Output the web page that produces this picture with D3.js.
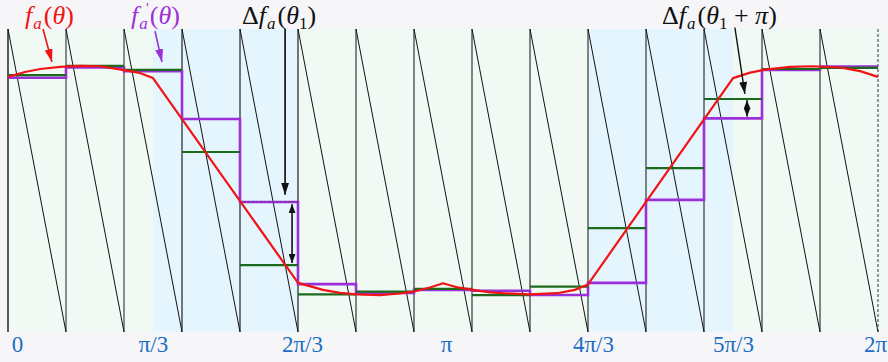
<!DOCTYPE html>
<html>
<head>
<meta charset="utf-8">
<script src="https://cdn.jsdelivr.net/npm/d3@7"></script>
<style>
  html, body { margin: 0; padding: 0; background: #f6f6f8; }
  svg { display: block; }
  text { font-family: "Liberation Serif", "Times New Roman", serif; }
</style>
</head>
<body>
<svg id="chart" width="888" height="362"></svg>
<script>
const PI = Math.PI;

// f_a(θ): sample angles (in units of π) and values
const curveTheta = [0, 0.039, 0.074, 0.120, 0.166, 0.212, 0.267, 0.303, 0.3333,
  0.6667, 0.724, 0.763, 0.802, 0.855, 0.901, 0.931, 0.970, 1.0, 1.034, 1.069,
  1.108, 1.138, 1.2, 1.262, 1.303, 1.322, 1.3333,
  1.6667, 1.706, 1.740, 1.798, 1.851, 1.913, 1.959, 2.0];
const curveValue = [84.2, 85.8, 86.8, 87.5, 87.8, 87.7, 86.4, 85.5, 83.8,
  16.2, 13.9, 12.9, 12.4, 12.2, 12.7, 13.3, 14.7, 16.1, 14.7, 13.9,
  13.1, 12.8, 12.4, 12.8, 13.9, 15.0, 15.7,
  83.8, 85.6, 86.6, 87.5, 87.7, 87.3, 86.1, 84.2];

// 15 equal segments of [0, 2π]
const segmentCount = 15;
// f_a'(θ): value held over each segment
const heldValue = [83.9, 87.3, 86.1, 70.3, 42.9, 15.8, 12.9, 13.9, 13.6, 12.2,
  16.2, 43.6, 70.5, 86.5, 87.6];
// segment mean level
const meanValue = [84.8, 87.8, 86.5, 59.4, 22.1, 12.4, 13.3, 14.2, 12.2, 15.0,
  34.3, 54.1, 76.9, 86.8, 87.2];

const tickValues = [0, PI / 3, 2 * PI / 3, PI, 4 * PI / 3, 5 * PI / 3, 2 * PI];
const tickLabels = ["0", "π/3", "2π/3", "π", "4π/3", "5π/3", "2π"];
const bandRanges = [[PI / 3, 2 * PI / 3], [4 * PI / 3, 5 * PI / 3]];

const svg = d3.select("#chart");
const W = 888, H = 362;
const plotTop = 29, plotBottom = 332, plotLeft = 8, plotRight = 878;

const x = d3.scaleLinear().domain([0, 2 * PI]).range([plotLeft, plotRight]);
const y = d3.scaleLinear().domain([0, 100]).range([plotBottom, plotTop]);

// page background
svg.append("rect").attr("width", W).attr("height", H).attr("fill", "#f6f6f8");

// plot background and shaded bands
svg.append("rect").attr("x", plotLeft).attr("y", plotTop)
  .attr("width", W - plotLeft - 4).attr("height", plotBottom - plotTop).attr("fill", "#f1f9f4");
svg.selectAll("rect.band").data(bandRanges).join("rect")
  .attr("class", "band")
  .attr("x", d => x(d[0])).attr("y", plotTop)
  .attr("width", d => x(d[1]) - x(d[0])).attr("height", plotBottom - plotTop)
  .attr("fill", "#e5f5fd");

// sawtooth reference: flyback verticals and falling ramps
const bounds = d3.range(segmentCount + 1).map(k => 2 * PI * k / segmentCount);
const vStyle = k => {
  if (k === 0) return ["#333", 1.6];
  if (k <= 2) return ["#8a8a8a", 2];
  if (k <= 5) return ["#555", 1.6];
  return ["#111", 1];
};
svg.selectAll("line.flyback").data(bounds.slice(0, segmentCount)).join("line")
  .attr("class", "flyback")
  .attr("x1", d => x(d)).attr("x2", d => x(d))
  .attr("y1", plotTop).attr("y2", plotBottom)
  .attr("stroke", (d, i) => vStyle(i)[0])
  .attr("stroke-width", (d, i) => vStyle(i)[1]);
svg.append("line")
  .attr("x1", x(2 * PI)).attr("x2", x(2 * PI))
  .attr("y1", plotTop).attr("y2", plotBottom)
  .attr("stroke", "#333").attr("stroke-width", 1)
  .attr("stroke-dasharray", "3,2");
svg.selectAll("line.ramp").data(bounds.slice(0, segmentCount)).join("line")
  .attr("class", "ramp")
  .attr("x1", d => x(d)).attr("y1", plotTop)
  .attr("x2", (d, i) => x(bounds[i + 1])).attr("y2", plotBottom)
  .attr("stroke", "#111").attr("stroke-width", 1);

// f_a'(θ) staircase
const stairPts = [];
heldValue.forEach((v, i) => {
  stairPts.push([bounds[i], v]);
  stairPts.push([bounds[i + 1], v]);
});
svg.append("path")
  .attr("d", d3.line().x(d => x(d[0])).y(d => y(d[1]))(stairPts))
  .attr("fill", "none").attr("stroke", "#9b30d9").attr("stroke-width", 2.6);

// dashed marker on the sampled level of the fifth segment
svg.append("line")
  .attr("x1", x(bounds[4])).attr("x2", x(bounds[5]))
  .attr("y1", y(heldValue[4])).attr("y2", y(heldValue[4]))
  .attr("stroke", "#333").attr("stroke-width", 1).attr("stroke-dasharray", "2,2")
  .attr("opacity", 0.5);

// segment mean levels
svg.selectAll("line.mean").data(meanValue).join("line")
  .attr("class", "mean")
  .attr("x1", (d, i) => x(bounds[i])).attr("x2", (d, i) => x(bounds[i + 1]))
  .attr("y1", d => y(d)).attr("y2", d => y(d))
  .attr("stroke", "#1c6b1c").attr("stroke-width", 2.2);

// f_a(θ)
svg.append("path")
  .attr("d", d3.line().x(d => x(d * PI)).y((d, i) => y(curveValue[i]))(curveTheta))
  .attr("fill", "none").attr("stroke", "#f01414").attr("stroke-width", 2.2)
  .attr("stroke-linejoin", "round");

// arrowheads
const defs = svg.append("defs");
function marker(id, color, w, l) {
  defs.append("marker").attr("id", id)
    .attr("markerUnits", "userSpaceOnUse")
    .attr("viewBox", `0 ${-w / 2} ${l} ${w}`)
    .attr("refX", l).attr("refY", 0)
    .attr("markerWidth", l).attr("markerHeight", w)
    .attr("orient", "auto-start-reverse")
    .append("path").attr("d", `M0,${-w / 2}L${l},0L0,${w / 2}Z`).attr("fill", color);
}
marker("headRed", "#f01414", 8, 13);
marker("headPurple", "#9b30d9", 8, 13);
marker("headBlack", "#111", 8, 12);
marker("headSmall", "#111", 7, 9);

function arrow(t1, v1, t2, v2, color, head, both, width) {
  const l = svg.append("line")
    .attr("x1", x(t1 * PI)).attr("y1", y(v1))
    .attr("x2", x(t2 * PI)).attr("y2", y(v2))
    .attr("stroke", color).attr("stroke-width", width || 1.6)
    .attr("marker-end", `url(#${head})`);
  if (both) l.attr("marker-start", `url(#${head})`);
}
arrow(0.0805, 100, 0.101, 89.1, "#f01414", "headRed");
arrow(0.338, 99.3, 0.354, 89.1, "#9b30d9", "headPurple");
arrow(0.637, 100, 0.637, 45.3, "#222", "headBlack", false, 1.8);
arrow(0.653, heldValue[4] - 0.7, 0.653, meanValue[4] + 0.7, "#111", "headSmall", true, 1.6);
arrow(1.671, 100.5, 1.694, 78.6, "#111", "headBlack", false, 1.4);
arrow(1.699, meanValue[12] - 0.4, 1.699, heldValue[12] + 0.6, "#111", "headSmall", true, 1.6);

// axis labels
const axis = d3.axisBottom(x).tickValues(tickValues)
  .tickFormat((d, i) => tickLabels[i]).tickSize(0).tickPadding(0);
const nudge = [9, 0, 4, 3, 5, 0, -3];
const g = svg.append("g").attr("transform", `translate(0,${plotBottom})`).call(axis);
g.select(".domain").remove();
g.selectAll("text")
  .attr("font-family", "'Liberation Serif', 'Times New Roman', serif")
  .attr("font-size", 23).attr("fill", "#1b6ec2")
  .attr("dy", null).attr("y", 20)
  .attr("dx", (d, i) => nudge[i]);

// top labels
function label(xPos, color, parts) {
  const t = svg.append("text").attr("x", xPos).attr("y", 24)
    .attr("font-size", 26).attr("fill", color);
  parts.forEach(p => {
    const s = t.append("tspan").text(p.t);
    if (p.i) s.attr("font-style", "italic");
    if (p.sub) s.attr("font-size", 17).attr("dy", 5);
    if (p.up) s.attr("dy", -5);
    if (p.dx) s.attr("dx", p.dx);
  });
  return t;
}
label(25, "#f01414", [{t: "f", i: 1}, {t: "a", i: 1, sub: 1, dx: 1}, {t: "(", up: 1, dx: 2}, {t: "θ", i: 1}, {t: ")"}]);
label(131, "#9b30d9", [{t: "f", i: 1}, {t: "a", i: 1, sub: 1, dx: 1}, {t: "(", up: 1, dx: 2}, {t: "θ", i: 1}, {t: ")"}]);
svg.append("text").attr("x", 146).attr("y", 13).attr("font-size", 15)
  .attr("fill", "#9b30d9").text("'");
label(242, "#111", [{t: "Δ"}, {t: "f", i: 1}, {t: "a", i: 1, sub: 1, dx: 1}, {t: "(", up: 1, dx: 2}, {t: "θ", i: 1}, {t: "1", sub: 1}, {t: ")", up: 1}]);
label(662, "#111", [{t: "Δ"}, {t: "f", i: 1}, {t: "a", i: 1, sub: 1, dx: 1}, {t: "(", up: 1, dx: 2}, {t: "θ", i: 1}, {t: "1", sub: 1}, {t: " + ", up: 1}, {t: "π", i: 1}, {t: ")"}]);
</script>
</body>
</html>
